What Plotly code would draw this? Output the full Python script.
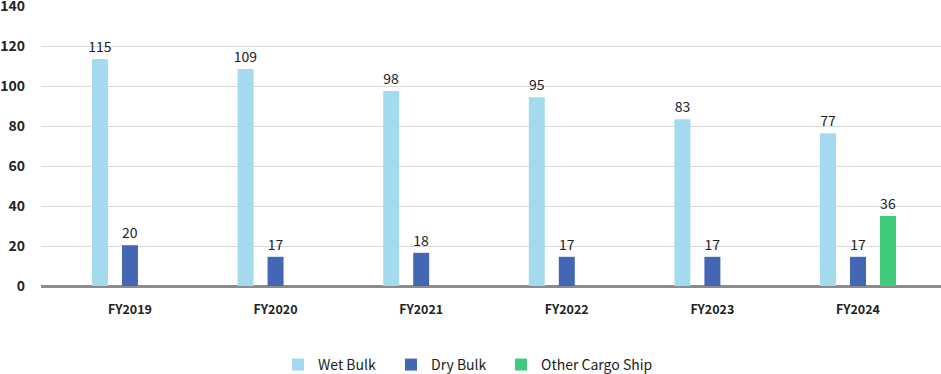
import plotly.graph_objects as go

categories = ["FY2019", "FY2020", "FY2021", "FY2022", "FY2023", "FY2024"]
wet_bulk = [113.5, 108.5, 97.5, 94.4, 83.4, 76.4]
dry_bulk = [20.4, 14.6, 16.6, 14.6, 14.6, 14.6]
other_cargo = [None, None, None, None, None, 35.0]
wet_labels = ["115", "109", "98", "95", "83", "77"]
dry_labels = ["20", "17", "18", "17", "17", "17"]
other_labels = ["", "", "", "", "", "36"]
y_ticks = [0, 20, 40, 60, 80, 100, 120, 140]

FONT = "Noto Sans CJK JP"
label_font = dict(family=FONT, size=14, color="#222222")

series = [
    ("Wet Bulk", wet_bulk, wet_labels, "#a3daf0", "legend", 278),
    ("Dry Bulk", dry_bulk, dry_labels, "#4467b5", "legend2", 391),
    ("Other Cargo Ship", other_cargo, other_labels, "#3ecc7c", "legend3", 501),
]

fig = go.Figure()
legend_layout = {}
for name, vals, labels, color, leg, lx in series:
    fig.add_trace(go.Bar(
        x=categories, y=vals, name=name, marker_color=color,
        marker_line_width=0,
        text=labels, textposition="outside", textfont=label_font,
        constraintext="none", legend=leg,
        cliponaxis=False, hoverinfo="skip",
    ))
    legend_layout[leg] = dict(
        orientation="h", x=(lx - 41) / 900, xanchor="left",
        y=-0.282, yanchor="middle", bgcolor="rgba(0,0,0,0)",
        font=dict(family=FONT, size=14, color="#222222"),
        itemwidth=30,
    )

fig.update_layout(
    width=941, height=374,
    margin=dict(l=41, r=0, t=6, b=88, autoexpand=False),
    barmode="group", bargap=0.382, bargroupgap=0.467,
    plot_bgcolor="white", paper_bgcolor="white",
    font=dict(family=FONT, size=13, color="#222222"),
    showlegend=True,
    **legend_layout,
)
fig.update_xaxes(
    range=[-0.611, 5.57], showgrid=False, showline=False, ticks="",
    tickfont=dict(family=FONT, size=12.5, color="#222222", weight="bold"),
    ticklabelstandoff=14,
)
fig.update_yaxes(
    range=[0, 140], tickvals=y_ticks, showgrid=True, gridcolor="#d9d9d9", gridwidth=1,
    zeroline=True, zerolinecolor="#8c8c8c", zerolinewidth=3,
    showline=False, ticks="", ticklabeloverflow="allow",
    tickfont=dict(family=FONT, size=14, color="#222222", weight="bold"),
    ticklabelstandoff=15,
)

fig.write_html("out.html")
